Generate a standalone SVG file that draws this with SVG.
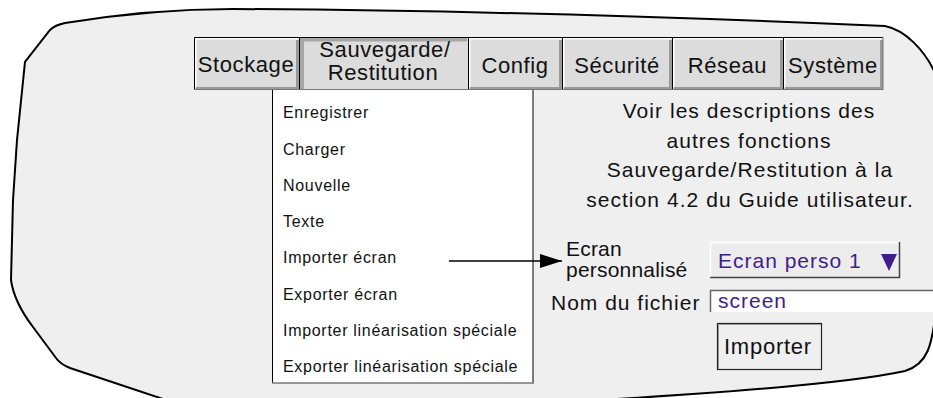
<svg xmlns="http://www.w3.org/2000/svg" width="933" height="398" viewBox="0 0 933 398">
<style>
text{font-family:"Liberation Sans",Arial,sans-serif;fill:#111}
.tabt{font-size:22px;letter-spacing:0.6px;text-anchor:middle}
.tab{fill:#dcdcdc}
.hl{fill:none;stroke:#ffffff;stroke-width:2}
.sh{fill:none;stroke:#9a9a9a;stroke-width:3}
.blk{fill:none;stroke:#000;stroke-width:1}
.mi{font-size:16px;letter-spacing:0.7px}
.info{font-size:21px;letter-spacing:1.05px;text-anchor:middle}
.lbl{font-size:21px}
.val{font-size:21px;letter-spacing:1px;fill:#3f1d8c}
</style>
<defs>
<marker id="ah" markerWidth="22" markerHeight="14" refX="22" refY="7" orient="auto" markerUnits="userSpaceOnUse">
<polygon points="0,0 22,7 0,14" fill="#000"/>
</marker>
</defs>

<g id="outline">
<path d="M163,399 L70,368 Q60,364 56,358 L33,327 Q14,302 11,280 L13,200 L17,140 L25,62 L50,30 Q55,25 65,23 C120,14 180,9 233,9 C450,10 700,18 885,26 C905,30 925,50 936,75 L936,310 C932,345 928,364 905,371 C850,383 720,393 600,400 L170,402 Z" fill="#efefef" stroke="#000" stroke-width="2"/>
</g>

<g id="tab-stockage">
<rect x="194" y="37" width="106" height="53" class="tab"/>
<path d="M195.5,88 V38.5 H298" class="hl"/>
<path d="M196,88.5 H297.5 V40" class="sh"/>
<text x="246" y="72" class="tabt">Stockage</text>
</g>
<g id="tab-sauvegarde">
<rect x="300" y="37" width="168" height="53" class="tab"/>
<path d="M302,89 V39.5 H467" fill="none" stroke="#a6a6a6" stroke-width="4"/>
<text x="385" y="57" class="tabt">Sauvegarde/</text>
<text x="383" y="80" class="tabt">Restitution</text>
</g>
<g id="tab-config">
<rect x="468" y="37" width="94" height="53" class="tab"/>
<path d="M469.5,88 V38.5 H561" class="hl"/>
<path d="M470,88.5 H560.5 V40" class="sh"/>
<text x="515" y="73" class="tabt">Config</text>
</g>
<g id="tab-securite">
<rect x="562" y="37" width="110" height="53" class="tab"/>
<path d="M563.5,88 V38.5 H671" class="hl"/>
<path d="M564,88.5 H670.5 V40" class="sh"/>
<text x="617" y="73" class="tabt">Sécurité</text>
</g>
<g id="tab-reseau">
<rect x="672" y="37" width="111" height="53" class="tab"/>
<path d="M673.5,88 V38.5 H782" class="hl"/>
<path d="M674,88.5 H781.5 V40" class="sh"/>
<text x="727.5" y="73" class="tabt">Réseau</text>
</g>
<g id="tab-systeme">
<rect x="783" y="37" width="100" height="53" class="tab"/>
<path d="M784.5,88 V38.5 H882" class="hl"/>
<path d="M785,88.5 H881.5 V40" class="sh"/>
<text x="833" y="73" class="tabt">Système</text>
</g>
<g id="tab-borders">
<path d="M194.5,90 V37.5 H883 M299.5,37 V90 M468.5,37 V90 M562.5,37 V90 M672.5,37 V90 M783.5,37 V90" class="blk"/>
<path d="M883,37 V90 M194,89.5 H883" fill="none" stroke="#777" stroke-width="1"/>
</g>

<g id="menu">
<rect x="272.5" y="90" width="260.5" height="293" fill="#fff"/>
<path d="M272.5,90 V383 M533,90 V383" class="blk"/>
<path d="M272,383 H534" fill="none" stroke="#777" stroke-width="1.5"/>
<text x="283" y="118" class="mi">Enregistrer</text>
<text x="283" y="154.5" class="mi">Charger</text>
<text x="283" y="191" class="mi">Nouvelle</text>
<text x="283" y="227" class="mi">Texte</text>
<text x="283" y="263" class="mi">Importer écran</text>
<text x="283" y="299.5" class="mi">Exporter écran</text>
<text x="283" y="335.5" class="mi">Importer linéarisation spéciale</text>
<text x="283" y="372" class="mi">Exporter linéarisation spéciale</text>
</g>

<g id="info">
<text x="749" y="118" class="info">Voir les descriptions des</text>
<text x="749" y="148" class="info">autres fonctions</text>
<text x="750" y="177" class="info">Sauvegarde/Restitution à la</text>
<text x="750" y="207" class="info">section 4.2 du Guide utilisateur.</text>
</g>

<g id="ecran-label">
<text x="566" y="256" class="lbl" style="letter-spacing:0.2px">Ecran</text>
<text x="566" y="277" class="lbl" style="letter-spacing:0.2px">personnalisé</text>
</g>

<g id="ecran-dropdown">
<rect x="710" y="242" width="190" height="36" fill="#ececec"/>
<path d="M710.5,278 V242.5 H900" fill="none" stroke="#fff" stroke-width="1.5"/>
<path d="M710,277.5 H899.5 V242" fill="none" stroke="#444" stroke-width="1.5"/>
<text x="718" y="268" class="val">Ecran perso 1</text>
<polygon points="881,254 897,254 889,271" fill="#3f1d8c"/>
</g>

<g id="nom-fichier">
<text x="551" y="310" class="lbl" style="letter-spacing:1px">Nom du fichier</text>
<rect x="710" y="290" width="230" height="22" fill="#fff"/>
<path d="M710.5,312 V290.5 H940" fill="none" stroke="#666" stroke-width="1.5"/>
<text x="718" y="308" class="val">screen</text>
</g>

<g id="importer-button">
<rect x="717.5" y="323.5" width="104" height="46" fill="#efefef" stroke="#222" stroke-width="1.2"/>
<path d="M718.5,369 V324.5 H821" fill="none" stroke="#999" stroke-width="1"/>
<text x="724" y="354" class="lbl" style="font-size:22px;letter-spacing:0.75px">Importer</text>
</g>

<g id="connectors">
<line x1="449" y1="261" x2="562" y2="261" stroke="#000" stroke-width="1.5" marker-end="url(#ah)"/>
</g>
</svg>
